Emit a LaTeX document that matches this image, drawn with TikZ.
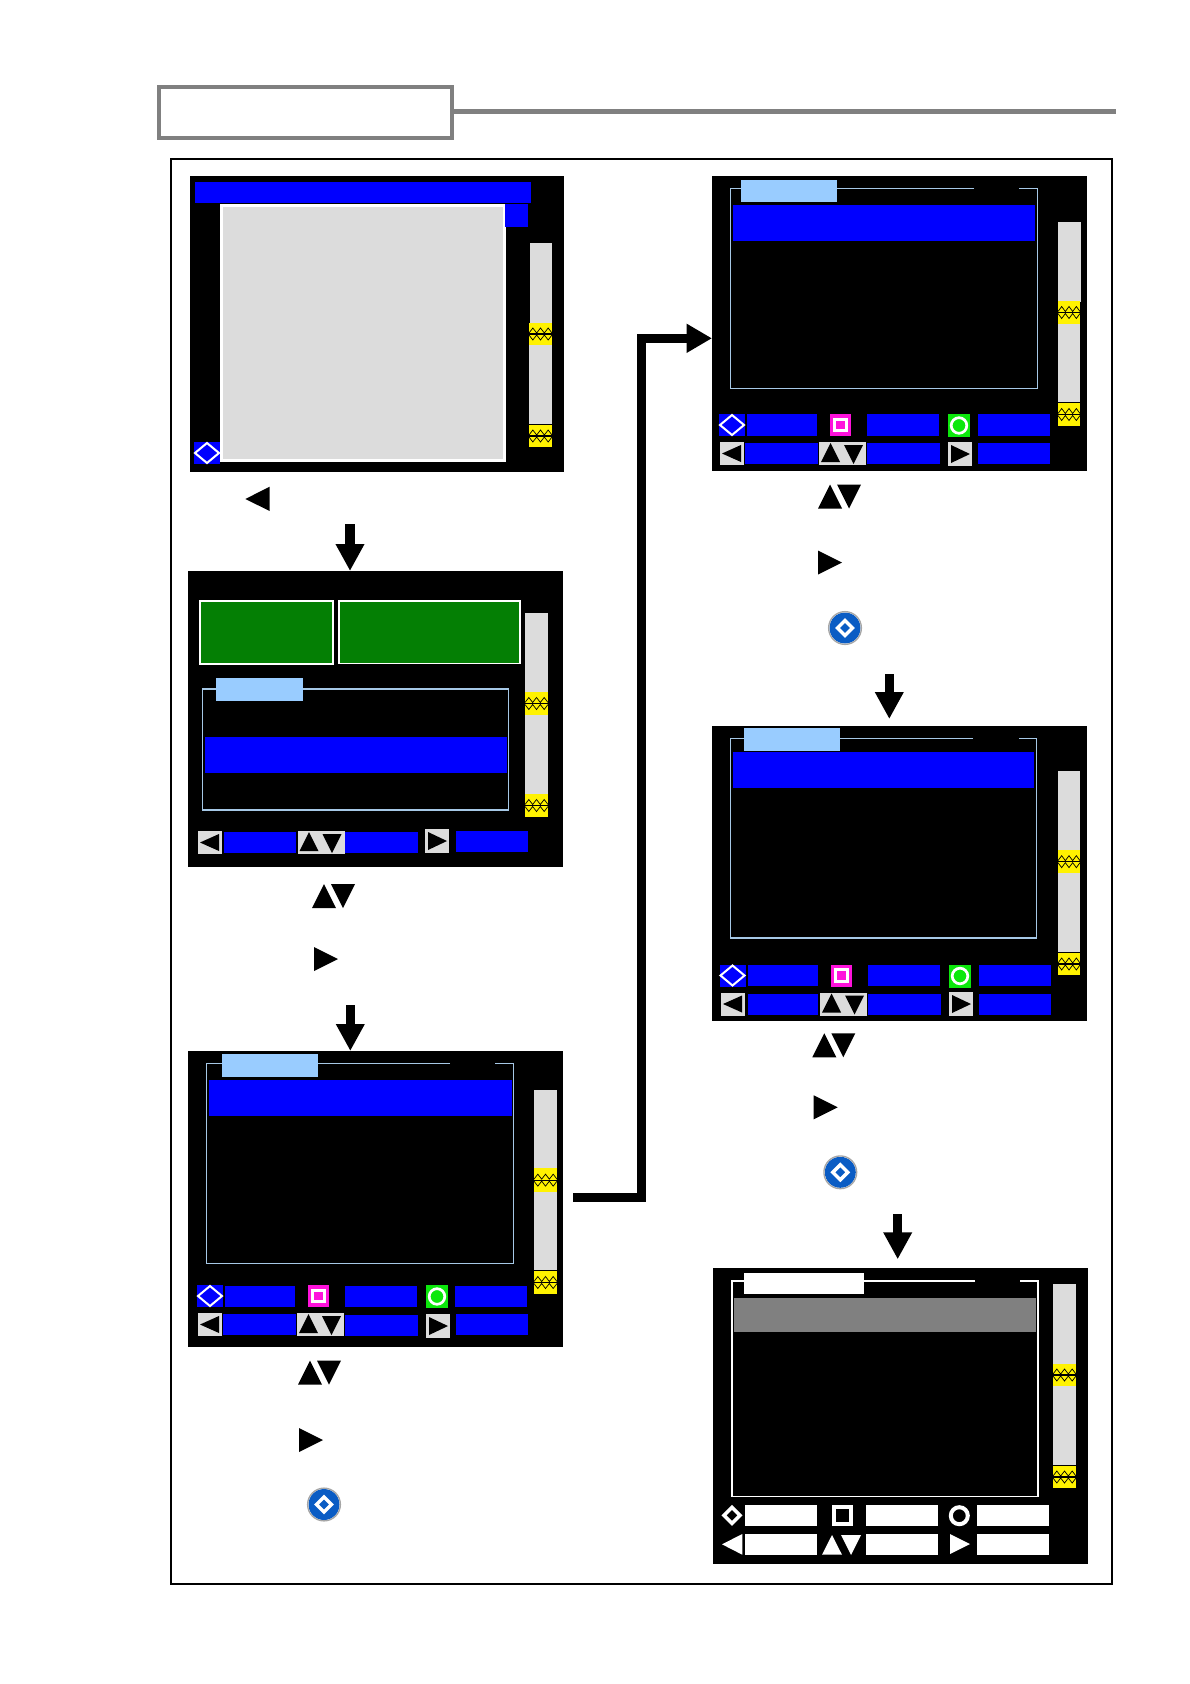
\documentclass[tikz,border=0pt]{standalone}
\usetikzlibrary{arrows.meta,calc}
\definecolor{pureblue}{HTML}{0000FF}
\definecolor{panelgray}{HTML}{DCDCDC}
\definecolor{tabblue}{HTML}{99CCFF}
\definecolor{framecol}{HTML}{A6C8E6}
\definecolor{darkgreen}{HTML}{047F04}
\definecolor{btngreen}{HTML}{0CE80C}
\definecolor{btnmag}{HTML}{FF12DC}
\definecolor{headgray}{HTML}{808080}
\definecolor{iconblue}{HTML}{0A5CC4}
\tikzset{
  screenbox/.style={fill=black,inner sep=0pt,outer sep=0pt,anchor=north west},
  headerbox/.style={draw=headgray,line width=4pt,fill=white,inner sep=0pt,outer sep=0pt,minimum width=293pt,minimum height=51pt},
  blockarrow/.style={line width=9.3pt,-{Triangle[length=27pt,width=27pt]},black},
  flowline/.style={line width=8.8pt,black,line cap=butt,miter limit=10,-{Triangle[length=25.5pt,width=27.5pt]}},
  listframe/.style={draw=framecol,line width=1.7pt},
  btnline/.style={draw=white,line width=2pt}
}
\newcommand{\bx}[5]{\fill[#5] (#1,#2) rectangle (#3,#4);}
\newcommand{\tri}[7]{\fill[#7] (#1,#2) -- (#3,#4) -- (#5,#6) -- cycle;}
\newcommand{\screen}[5]{\node[screenbox,minimum width={(#4-#2)*1pt},minimum height={(#5-#3)*1pt}] (#1) at (#2,#3) {};}
\newcommand{\knob}[4]{%
  \fill[yellow] (#1,#2) rectangle (#3,#4);
  \pgfmathsetmacro{\kc}{(#2+#4)/2}%
  \pgfmathsetmacro{\kw}{(#3-#1)/6}%
  \draw[black,line width=1.1pt] (#1,\kc) -- (#3,\kc);
  \draw[black,line width=.7pt] (#1,\kc-1) -- ({#1+\kw},\kc-6) -- ({#1+2*\kw},\kc-1) -- ({#1+3*\kw},\kc-6) -- ({#1+4*\kw},\kc-1) -- ({#1+5*\kw},\kc-6) -- (#3,\kc-1);
  \draw[black,line width=.7pt] (#1,\kc+1) -- ({#1+\kw},\kc+6) -- ({#1+2*\kw},\kc+1) -- ({#1+3*\kw},\kc+6) -- ({#1+4*\kw},\kc+1) -- ({#1+5*\kw},\kc+6) -- (#3,\kc+1);
}
% blue box + white diamond, top-left x,y
\newcommand{\dmbtn}[2]{%
  \fill[pureblue] (#1,#2) rectangle ++(26,22);
  \draw[btnline,line join=miter] ({#1+1},{#2+11}) -- ({#1+13},{#2+1}) -- ({#1+25},{#2+11}) -- ({#1+13},{#2+21}) -- cycle;
}
\newcommand{\sqbtn}[2]{%
  \fill[btnmag] (#1,#2) rectangle ++(21,22);
  \draw[draw=white,line width=3pt] ({#1+4.7},{#2+5.2}) rectangle ({#1+16.3},{#2+16.8});
}
\newcommand{\cibtn}[2]{%
  \fill[btngreen] (#1,#2) rectangle ++(22,23);
  \draw[draw=white,line width=2.7pt] ({#1+11},{#2+11.5}) circle[radius=7.8pt];
}
\newcommand{\lbtn}[2]{%
  \fill[panelgray] (#1,#2) rectangle ++(24,23);
  \tri{#1+2}{#2+11.5}{#1+21}{#2+3}{#1+21}{#2+20}{black}
}
\newcommand{\rbtn}[2]{%
  \fill[panelgray] (#1,#2) rectangle ++(24,24);
  \tri{#1+3}{#2+3}{#1+3}{#2+21}{#1+22}{#2+12}{black}
}
\newcommand{\udbtn}[2]{%
  \fill[panelgray] (#1,#2) rectangle ++(47,23);
  \tri{#1+2}{#2+20}{#1+21}{#2+20}{#1+11.5}{#2+1}{black}
  \tri{#1+25}{#2+3}{#1+44}{#2+3}{#1+34.5}{#2+22}{black}
}
\newcommand{\updown}[2]{%
  \tri{#1}{#2+24}{#1+24}{#2+24}{#1+12}{#2}{black}
  \tri{#1+19}{#2}{#1+43}{#2}{#1+31}{#2+24}{black}
}
\newcommand{\rtri}[2]{\tri{#1}{#2}{#1}{#2+24}{#1+24}{#2+12}{black}}
\newcommand{\icon}[2]{%
  \fill[iconblue] (#1,#2) circle[radius=15.5pt];
  \draw[gray!70,line width=1.3pt] (#1,#2) circle[radius=16.4pt];
  \draw[draw=white,line width=3.4pt] ({#1-7.5},#2) -- (#1,{#2-7.5}) -- ({#1+7.5},#2) -- (#1,{#2+7.5}) -- cycle;
}
\begin{document}
\begin{tikzpicture}[x=1pt,y=-1pt]
\useasboundingbox (0,0) rectangle (1190,1684);
\fill[white] (0,0) rectangle (1190,1684);

% header
\node[headerbox] (hdr) at (305.5,112.5) {};
\coordinate (hend) at (1116,111.4);
\draw[headgray,line width=4.2pt] (hdr.east |- hend) -- (hend);
% outer frame
\draw[black,line width=2pt] (171,159) rectangle (1112,1584);

% ---- screen 1
\screen{sa}{190}{176}{564}{472}
\bx{195}{182}{531}{202.7}{pureblue}
\bx{220}{204}{506}{462}{white}
\bx{223}{207}{503}{459}{panelgray}
\bx{505}{204}{528}{226.7}{pureblue}
\bx{530}{243}{552}{323}{panelgray}
\bx{529}{345}{552}{424}{panelgray}
\knob{529}{322.7}{552}{345.3}
\knob{529}{425}{552}{447}
\dmbtn{194}{442}
\tri{245.3}{499}{269.7}{486.7}{269.7}{511}{black}

% ---- screen 2
\screen{sb}{188}{571}{563}{867}
\bx{199}{600}{334}{665}{white}
\bx{201}{602}{332.3}{663}{darkgreen}
\bx{338}{600.3}{521}{664}{white}
\bx{340}{602}{519}{662.5}{darkgreen}
\bx{525}{613}{548}{795}{panelgray}
\knob{525}{692}{548}{715}
\knob{525}{794}{548}{817}
\draw[listframe] (202.5,688.8) rectangle (508.5,810.2);
\bx{216}{678}{303}{701}{tabblue}
\bx{205}{737}{507}{773}{pureblue}
\lbtn{198}{831}
\bx{224}{832}{296}{853}{pureblue}
\udbtn{297.5}{831}
\bx{345}{832}{418}{853}{pureblue}
\rbtn{425}{829}
\bx{456}{831}{528}{852}{pureblue}
\updown{312}{884}
\rtri{314}{947}

% ---- screen 3
\screen{sc}{188}{1051}{563}{1347}
\draw[listframe] (450,1063.5) -- (206.5,1063.5) -- (206.5,1263.5) -- (513.5,1263.5) -- (513.5,1063.5) -- (495,1063.5);
\bx{222}{1054}{318}{1077}{tabblue}
\bx{209}{1080}{512}{1116}{pureblue}
\bx{534}{1090}{557}{1270}{panelgray}
\knob{534}{1168.3}{557}{1192}
\knob{534}{1271}{557}{1294}
\dmbtn{197}{1285}
\bx{225}{1286}{295}{1307}{pureblue}
\sqbtn{308}{1285}
\bx{345}{1286}{417}{1307}{pureblue}
\cibtn{426}{1285}
\bx{455}{1286}{527}{1307}{pureblue}
\lbtn{198}{1313}
\bx{223}{1314}{296}{1335}{pureblue}
\udbtn{297}{1313}
\bx{345}{1315}{418}{1336}{pureblue}
\rbtn{426}{1314}
\bx{456}{1314}{528}{1335}{pureblue}
\updown{298}{1360.5}
\rtri{299}{1428}
\icon{324}{1504.5}

% ---- screen 4
\screen{sd}{712}{176}{1087}{471}
\draw[listframe] (974,188.5) -- (730.5,188.5) -- (730.5,388.5) -- (1037.5,388.5) -- (1037.5,188.5) -- (1019,188.5);
\bx{741}{180}{837}{202}{tabblue}
\bx{733}{205}{1035}{241}{pureblue}
\bx{1058}{222}{1081}{302}{panelgray}
\bx{1058}{324}{1080}{402}{panelgray}
\knob{1058}{301}{1080}{324}
\knob{1058}{403}{1080}{426}
\dmbtn{719}{414}
\bx{747}{414}{817}{436}{pureblue}
\sqbtn{830}{414}
\bx{867}{414}{939}{436}{pureblue}
\cibtn{948}{414}
\bx{978}{414}{1050}{436}{pureblue}
\lbtn{720}{442}
\bx{745}{443}{818}{464}{pureblue}
\udbtn{819}{442}
\bx{867}{443}{940}{464}{pureblue}
\rbtn{948}{442}
\bx{978}{443}{1050}{464}{pureblue}
\updown{818}{484.5}
\rtri{818}{550.5}
\icon{845}{628}

% ---- screen 5
\screen{se}{712}{726}{1087}{1021}
\draw[listframe] (973,738.5) -- (730.5,738.5) -- (730.5,938) -- (1036.5,938) -- (1036.5,738.5) -- (1019,738.5);
\bx{744}{728}{840}{751}{tabblue}
\bx{733}{752}{1034}{788}{pureblue}
\bx{1058}{771}{1080}{952}{panelgray}
\knob{1058}{850}{1080}{873.3}
\knob{1058}{953}{1080}{975}
\dmbtn{719.5}{964.5}
\bx{748}{965}{818}{986}{pureblue}
\sqbtn{831}{964.5}
\bx{868}{965}{940}{986}{pureblue}
\cibtn{949}{964.5}
\bx{979}{965}{1051}{986}{pureblue}
\lbtn{721}{992.5}
\bx{748}{994}{818}{1015}{pureblue}
\udbtn{820}{992.5}
\bx{868}{994}{941}{1015}{pureblue}
\rbtn{949}{992}
\bx{979}{994}{1051}{1015}{pureblue}
\updown{812.3}{1033.3}
\rtri{813.7}{1095.3}
\icon{840.3}{1172.3}

% ---- screen 6
\screen{sf}{713}{1268}{1088}{1564}
\draw[draw=white,line width=1.7pt] (975,1280.8) -- (731.8,1280.8) -- (731.8,1496.5) -- (1038.2,1496.5) -- (1038.2,1280.8) -- (1020,1280.8);
\bx{744}{1273}{864}{1294}{white}
\bx{734}{1298}{1036}{1332}{headgray}
\bx{1053}{1284}{1076}{1465}{panelgray}
\knob{1053}{1364}{1076}{1386}
\knob{1053}{1466}{1076}{1488}
\draw[white,line width=3.6pt] (724,1515.3) -- (732,1507.3) -- (740,1515.3) -- (732,1523.3) -- cycle;
\bx{745}{1505}{817}{1526}{white}
\draw[white,line width=4pt] (834,1507) rectangle (851,1524);
\bx{866}{1505}{938}{1526}{white}
\draw[white,line width=4pt] (959.3,1515.7) circle[radius=8.5pt];
\bx{977}{1505}{1049}{1526}{white}
\tri{722}{1544.3}{742.3}{1534}{742.3}{1554.7}{white}
\bx{745}{1534}{817}{1555}{white}
\tri{822}{1554.7}{842}{1554.7}{832}{1535}{white}
\tri{841}{1535}{861}{1535}{851}{1555}{white}
\bx{866}{1534}{938}{1555}{white}
\tri{950}{1534}{950}{1554}{970}{1544}{white}
\bx{977}{1534}{1049}{1555}{white}

% ---- block arrows
\coordinate (aa) at (350,524.3);
\draw[blockarrow] (aa) -- (aa |- sb.north);
\coordinate (ab) at (350.3,1005);
\draw[blockarrow] (ab) -- (ab |- sc.north);
\coordinate (ac) at (889.3,674);
\coordinate (acend) at (889.3,719);
\draw[blockarrow] (ac) -- (acend);
\coordinate (ad) at (897.7,1214);
\coordinate (adend) at (897.7,1259.3);
\draw[blockarrow] (ad) -- (adend);

% ---- connector
\coordinate (fstart) at (573,1197.5);
\coordinate (felbow) at (641.8,338.3);
\draw[flowline] (fstart) -| (felbow) -- (sd.west |- felbow);
\end{tikzpicture}
\end{document}
